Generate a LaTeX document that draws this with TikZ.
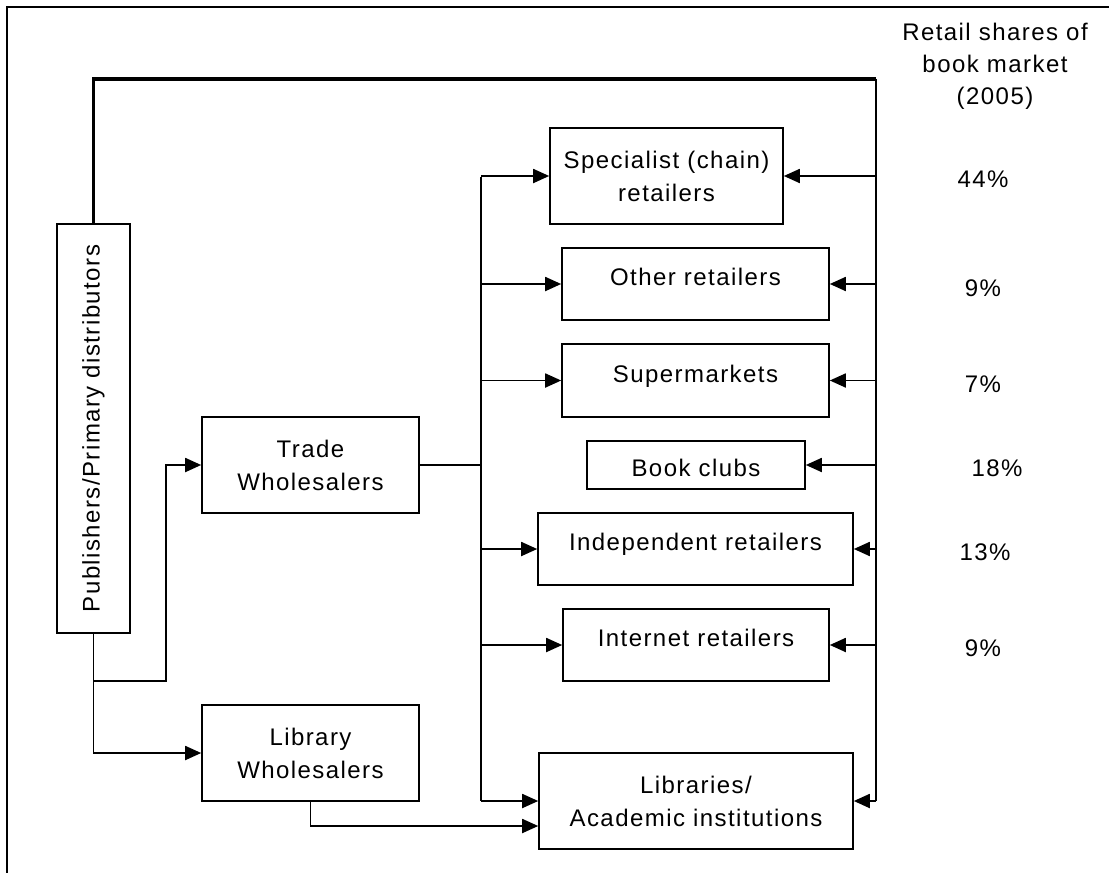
\documentclass[tikz,border=0pt]{standalone}
\usepackage{fontspec}
\setmainfont{Liberation Sans}[LetterSpace=6]
\usetikzlibrary{arrows.meta}
\begin{document}
\begin{tikzpicture}[x=0.5pt,y=-0.5pt,
  every node/.style={font=\fontsize{12pt}{16.5pt}\selectfont, inner sep=0pt},
  box/.style={draw, line width=0.8pt, align=center},
  conn/.style={line width=0.9pt},
  arr/.style={conn, -{Triangle[length=8pt,width=7pt]}},
  bus/.style={line width=1.4pt},
  heavy/.style={line width=1.8pt},
  up/.style={text height=9pt, text depth=7.4pt},
]
\useasboundingbox (0,0) rectangle (1109,873);
\draw[line width=0.8pt] (7,873) -- (7,7) -- (1109,7);

% boxes
\node[box, minimum width=36.5pt, minimum height=204.5pt] (pub) at (93.5,428.5)
  {\rotatebox{90}{Publishers/Primary distributors}};
\node[box, minimum width=108.5pt, minimum height=48pt] (trade) at (310.5,465) {Trade\\Wholesalers};
\node[box, minimum width=108.5pt, minimum height=48pt] (libw) at (310.5,753) {Library\\Wholesalers};
\node[box, minimum width=116.5pt, minimum height=48pt] (spec) at (666.5,176) {Specialist (chain)\\retailers};
\node[box, up, minimum width=133.5pt, minimum height=36pt] (other) at (695.5,284) {Other retailers};
\node[box, up, minimum width=133.5pt, minimum height=36.5pt] (super) at (695.5,380.5) {Supermarkets};
\node[box, text height=11.6pt, text depth=0pt, minimum width=109pt, minimum height=24pt] (book) at (696,465) {Book clubs};
\node[box, up, minimum width=157.5pt, minimum height=36pt] (indep) at (695.5,549) {Independent retailers};
\node[box, up, minimum width=133pt, minimum height=36pt] (inet) at (696,645) {Internet retailers};
\node[box, minimum width=157pt, minimum height=48pt] (libs) at (696,801) {Libraries/\\Academic institutions};

% header and shares
\node[align=center, font=\fontsize{12pt}{16pt}\selectfont] (head) at (995,66) {Retail shares of\\book market\\(2005)};
\node (p44) at (983,179) {44\%};
\node (p9a) at (983,288) {9\%};
\node (p7) at (983,384) {7\%};
\node (p18) at (997,468) {18\%};
\node (p13) at (985,552) {13\%};
\node (p9b) at (983,648) {9\%};

% coordinates
\coordinate (rtop) at (876,79);
\coordinate (rbot) at (876,801);
\coordinate (ltop) at (481,177);
\coordinate (lbot) at (481,801);
\coordinate (j2) at (166,681);

% publisher top connector and right bus
\draw[heavy] (pub.north) |- (rtop);
\draw[bus] (rtop) -- (rbot);
\foreach \n in {spec,other,super,book,indep,inet,libs}
  \draw[arr] (\n.east -| rtop) -- (\n.east);

% left bus from trade wholesalers
\draw[bus] (ltop) -- (lbot);
\draw[bus] (trade.east) -- (trade.east -| ltop);
\foreach \n in {spec,other,super,indep,inet,libs}
  \draw[arr] (\n.west -| ltop) -- (\n.west);

% publishers to wholesalers
\draw[arr] (pub.south) |- (j2) |- (trade.west);
\draw[arr] (pub.south) |- (libw.west);
\draw[arr] (libw.south) |- ([yshift=-12.5pt]libs.west);
\end{tikzpicture}
\end{document}
